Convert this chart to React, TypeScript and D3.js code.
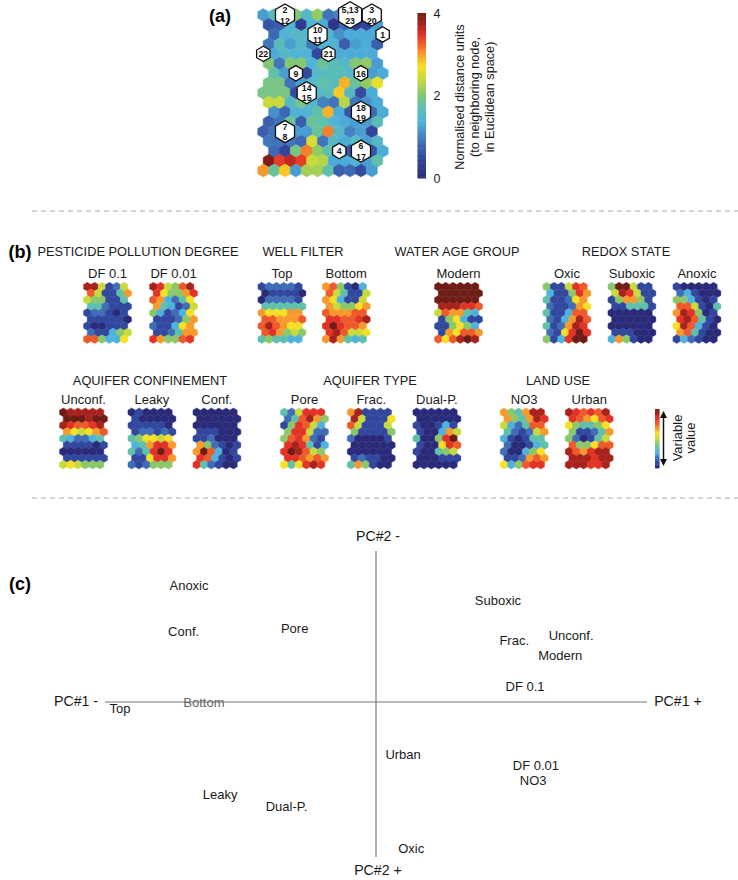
import React from "react";
import * as d3 from "d3";

const W = 738, H = 880;
const FONT = "'Liberation Sans', Arial, sans-serif";

const rampColors = ["#2b2c7a", "#31479e", "#3f6db6", "#4fb2dc", "#5fc0ab", "#8ac86a", "#c9da3c", "#f6e026", "#f79a2d", "#ee5a2a", "#e33327", "#a9231f", "#6f1c17"];
const distStops = [0, 0.45, 0.85, 1.35, 1.7, 2.05, 2.4, 2.7, 3, 3.25, 3.45, 3.7, 4];
const levelStops = d3.range(13);
const distColor = d3.scaleLinear<string>().domain(distStops).range(rampColors).clamp(true);
const levelColor = d3.scaleLinear<string>().domain(levelStops).range(rampColors).clamp(true);

// (a) U-matrix: 17 rows x 11 columns, distance units
const uMatrix = [
  [1.2, 1.6, 1.6, 2.0, 1.5, 2.1, 0.9, 1.0, 1.0, 1.2, 1.2],
  [0.6, 0.7, 1.4, 0.25, 1.4, 1.3, 0.15, 0.8, 0.35, 0.4, 1.2],
  [0.8, 1.4, 1.5, 1.5, 1.4, 1.4, 1.1, 1.3, 1.3, 1.3, 1.3],
  [0.9, 1.6, 1.2, 1.5, 0.9, 1.4, 1.4, 0.7, 1.2, 1.3, 0.7],
  [1.3, 1.3, 1.5, 1.4, 1.4, 0.45, 1.3, 1.3, 1.3, 1.3, 1.3],
  [2.0, 0.9, 2.0, 2.0, 1.4, 1.8, 1.6, 1.5, 2.0, 2.1, 1.2],
  [1.7, 1.2, 1.5, 0.5, 1.5, 1.6, 1.6, 1.5, 1.6, 1.2, 1.3],
  [1.9, 1.9, 0.9, 1.2, 1.5, 1.7, 1.6, 2.9, 1.8, 2.1, 2.6],
  [1.9, 1.9, 1.9, 0.5, 1.5, 1.5, 1.6, 2.8, 1.5, 0.5, 1.3],
  [2.4, 2.4, 1.5, 1.9, 1.5, 1.0, 0.9, 2.3, 0.9, 1.1, 1.3],
  [1.1, 0.8, 1.4, 1.4, 1.7, 2.9, 1.3, 0.6, 1.2, 0.8, 1.3],
  [0.7, 0.9, 1.8, 0.7, 1.8, 1.7, 1.4, 1.3, 1.2, 1.2, 1.6],
  [0.7, 0.9, 1.2, 1.2, 1.2, 1.8, 3.1, 1.5, 1.0, 1.2, 0.4],
  [0.9, 0.9, 0.9, 0.8, 2.5, 0.9, 1.5, 1.3, 1.5, 1.2, 1.5],
  [0.8, 0.4, 1.9, 3.1, 2.1, 1.7, 1.2, 0.6, 1.0, 0.6, 1.3],
  [3.9, 3.4, 3.6, 3.4, 2.4, 2.3, 1.3, 1.3, 1.4, 1.2, 1.7],
  [3.0, 1.8, 2.8, 1.2, 2.2, 2.2, 1.7, 0.7, 0.8, 0.5, 1.2],
];

const nodeLabels = [
  { lines: ["2", "12"], row: 0, col: 2 },
  { lines: ["5,13", "23"], row: 0, col: 8 },
  { lines: ["3", "20"], row: 0, col: 10 },
  { lines: ["1"], row: 2, col: 10 },
  { lines: ["10", "11"], row: 2, col: 4 },
  { lines: ["21"], row: 4, col: 6 },
  { lines: ["22"], row: 4, col: 0 },
  { lines: ["9"], row: 6, col: 2 },
  { lines: ["16"], row: 6, col: 8 },
  { lines: ["14", "15"], row: 8, col: 4 },
  { lines: ["18", "19"], row: 10, col: 8 },
  { lines: ["7", "8"], row: 12, col: 2 },
  { lines: ["4"], row: 14, col: 6 },
  { lines: ["6", "17"], row: 14, col: 8 },
];

// (b) component planes: 9 rows x 6 columns, colour level 0 to 12
const df01 = [[11,11,6,1,2,6],[9,6,1,1,4,8],[6,5,5,1,1,4],[4,4,2,1,1,1],[1,2,2,1,0,1],[1,1,1,1,1,0],[1,0,0,1,1,1],[2,1,1,3,5,6],[9,9,5,3,3,7]];
const df001 = [[11,10,6,5,9,11],[10,7,5,5,8,10],[9,8,3,2,4,7],[8,4,3,1,2,6],[5,3,1,2,3,7],[1,1,1,2,5,8],[2,1,1,3,7,8],[1,1,2,4,8,8],[10,8,5,5,9,10]];
const top = [[1,2,2,2,2,1],[0,1,1,1,1,0],[0,2,2,2,2,1],[4,4,4,4,4,4],[8,7,7,7,8,8],[9,9,8,8,8,9],[9,11,9,8,7,7],[9,10,8,5,6,5],[4,5,4,4,3,3]];
const bottom = [[8,9,5,1,0,3],[9,6,4,1,1,6],[8,7,3,1,1,6],[8,6,5,5,7,8],[9,8,8,8,9,9],[10,10,9,9,10,11],[10,12,10,9,9,8],[10,11,9,6,6,7],[8,11,8,4,3,4]];
const modern = [[12,12,12,12,12,12],[12,12,12,12,12,12],[12,12,12,12,12,12],[11,11,11,10,10,9],[6,9,8,8,4,3],[1,5,7,3,1,1],[1,1,5,7,5,3],[1,8,7,9,9,8],[9,7,9,11,12,11]];
const oxic = [[5,1,1,6,10,9],[3,1,1,5,10,8],[4,1,1,2,7,8],[2,1,1,2,8,7],[4,1,1,3,9,9],[2,1,3,8,11,9],[4,1,2,8,11,10],[2,1,7,10,12,10],[5,1,3,10,12,12]];
const suboxic = [[5,12,12,6,1,1],[6,11,10,6,1,1],[1,5,8,8,5,1],[1,1,4,4,4,1],[0,0,0,0,0,0],[0,0,0,0,0,0],[0,0,0,0,0,0],[1,1,1,0,0,0],[3,8,5,1,0,0]];
const anoxic = [[1,0,0,0,0,0],[2,3,1,0,0,0],[5,5,3,1,0,1],[9,9,6,1,0,4],[8,11,10,5,0,1],[10,11,9,4,1,0],[7,11,9,3,1,0],[8,9,4,1,0,0],[1,3,2,1,0,0]];
const unconf = [[12,11,11,11,11,11],[12,12,12,11,12,12],[11,10,9,9,10,11],[8,7,6,7,8,9],[4,3,2,2,3,4],[1,1,1,1,0,1],[0,0,0,0,0,0],[1,1,1,1,1,1],[6,7,6,5,5,5]];
const leaky = [[0,1,0,0,0,0],[1,0,0,0,0,0],[1,1,1,1,1,0],[1,2,2,1,2,1],[4,5,7,7,6,7],[3,4,8,10,10,8],[4,2,4,10,12,10],[1,1,7,10,10,8],[2,1,2,5,5,5]];
const conf = [[0,0,0,0,0,0],[0,0,0,0,0,0],[0,0,0,0,0,0],[1,1,1,0,0,0],[1,1,2,0,0,0],[8,5,2,1,0,1],[8,12,9,3,0,1],[10,9,3,1,0,1],[10,4,2,1,0,0]];
const pore = [[4,2,6,10,10,10],[2,4,9,11,8,5],[1,5,10,9,6,3],[5,10,10,6,2,2],[5,9,10,8,2,1],[10,11,10,4,1,3],[10,12,11,9,6,5],[10,10,9,8,9,8],[7,4,7,10,11,10]];
const frac = [[8,11,1,1,1,1],[11,6,1,1,1,7],[9,6,1,1,1,6],[5,1,1,1,1,5],[2,0,0,0,0,1],[0,0,0,0,0,0],[0,0,0,0,0,0],[1,2,1,1,0,0],[4,8,5,1,0,0]];
const dualP = [[0,0,0,0,0,0],[0,0,0,0,0,0],[1,0,0,1,3,1],[1,0,0,3,8,6],[4,0,0,5,10,12],[1,0,0,7,10,9],[1,0,0,4,5,6],[0,0,0,1,1,1],[0,0,0,0,0,0]];
const no3 = [[8,5,4,8,11,11],[8,5,4,8,11,10],[6,3,2,4,9,9],[4,2,1,2,6,8],[3,1,0,1,4,4],[2,0,0,1,3,4],[2,0,0,3,5,7],[1,1,2,8,9,8],[7,3,5,9,10,10]];
const urban = [[11,10,9,10,9,11],[10,9,8,7,9,10],[7,5,4,4,5,7],[5,1,1,2,4,8],[5,2,0,1,4,6],[9,5,5,7,9,9],[11,9,8,10,11,11],[11,11,11,10,11,11],[11,11,11,10,10,11]];

const planeNames = ["DF 0.1", "DF 0.01", "Top", "Bottom", "Modern", "Oxic", "Suboxic", "Anoxic", "Unconf.", "Leaky", "Conf.", "Pore", "Frac.", "Dual-P.", "NO3", "Urban"];
const planeValues = [df01, df001, top, bottom, modern, oxic, suboxic, anoxic, unconf, leaky, conf, pore, frac, dualP, no3, urban];
const planeLeft = [87.3, 153.3, 261.7, 326, 438.3, 546.7, 611.7, 676.7, 63.3, 131.7, 196.7, 284.3, 351, 416.7, 504, 569];
const planeTop = [286.7, 286.7, 286.7, 286.7, 286.7, 286.7, 286.7, 286.7, 412.3, 412.3, 412.3, 412.3, 412.3, 412.3, 412.3, 412.3];

const groupNames = ["PESTICIDE POLLUTION DEGREE", "WELL FILTER", "WATER AGE GROUP", "REDOX STATE", "AQUIFER CONFINEMENT", "AQUIFER TYPE", "LAND USE"];
const groupX = [138, 303, 457, 626, 150, 370, 558];
const groupY = [255.5, 255.5, 255.5, 255.5, 384.5, 384.5, 384.5];

// (c) loadings on the two principal components
const pcNames = ["Anoxic", "Conf.", "Pore", "Suboxic", "Frac.", "Unconf.", "Modern", "DF 0.1", "Top", "Bottom", "Urban", "DF 0.01", "NO3", "Leaky", "Dual-P.", "Oxic"];
const pc1 = [-0.69, -0.71, -0.3, 0.45, 0.51, 0.72, 0.68, 0.55, -0.945, -0.635, 0.1, 0.59, 0.58, -0.575, -0.33, 0.13];
const pc2 = [-0.77, -0.47, -0.49, -0.675, -0.41, -0.44, -0.31, -0.105, 0.04, 0, 0.35, 0.42, 0.52, 0.61, 0.69, 0.97];

const hexPath = (r: number) =>
  d3.range(6).map((i) => {
    const a = Math.PI / 6 + (i * Math.PI) / 3;
    return [r * Math.cos(a), r * Math.sin(a)];
  }).map((p, i) => `${i ? "L" : "M"}${p[0].toFixed(2)},${p[1].toFixed(2)}`).join("") + "Z";

// big-map grid
const uX = d3.scaleLinear().domain([0, 1]).range([263.3, 274.15]);
const uY = d3.scaleLinear().domain([0, 16]).range([15, 170.5]);
const uOffset = (row: number) => (row % 4 === 0 ? 0 : row % 4 === 2 ? 1 : 0.5);
const uPath = hexPath(6.45);

const planeDx = 7.35, planeDy = 6.55;
const planePath = hexPath(4.35);

const pcX = d3.scaleLinear().domain([-1, 1]).range([105, 647]);
const pcY = d3.scaleLinear().domain([-1, 1]).range([551, 853]);

const barDist = d3.scaleLinear().domain([0, 4]).range([178, 13]);
const barSteps = d3.range(0, 4, 0.04);
const levelBar = d3.scaleLinear().domain([0, 12]).range([468, 409]);
const levelSteps = d3.range(0, 12, 0.25);

const T = (p: any) => <text fontFamily={FONT} fill="#1a1a1a" textAnchor="middle" {...p} />;

export default function App() {
  return (
    <svg width={W} height={H} viewBox={`0 0 ${W} ${H}`} style={{ position: "absolute", left: 0, top: 0, background: "#fff" }}>
      <defs>
        <marker id="ah" markerWidth="8" markerHeight="8" refX="5" refY="3.5" orient="auto-start-reverse" markerUnits="userSpaceOnUse">
          <path d="M0,0L7,3.5L0,7Z" fill="#111" />
        </marker>
        <filter id="soft" x="-5%" y="-5%" width="110%" height="110%">
          <feGaussianBlur stdDeviation="0.55" />
        </filter>
      </defs>

      {/* panel letters */}
      <T x={220} y={22} fontSize={18} fontWeight="bold" fill="#000">(a)</T>
      <T x={20} y={258} fontSize={18} fontWeight="bold" fill="#000">(b)</T>
      <T x={20} y={590} fontSize={18} fontWeight="bold" fill="#000">(c)</T>

      {/* (a) */}
      <g>
        <g filter="url(#soft)">
          {uMatrix.map((row, r) =>
            row.map((v, c) => (
              <path key={`${r}-${c}`} d={uPath} fill={distColor(v)} stroke={distColor(v)} strokeWidth={0.4} transform={`translate(${uX(c + uOffset(r))},${uY(r)})`} />
            ))
          )}
        </g>
        {nodeLabels.map((n) => {
          const x = uX(n.col + uOffset(n.row));
          const y = uY(n.row);
          const big = n.lines[0].length > 2;
          const R = big ? 13.3 : n.lines.length > 1 ? 11 : 7.7;
          return (
            <g key={n.lines.join("/")} transform={`translate(${x},${y})`}>
              <path d={hexPath(R)} fill="#fff" stroke="#111" strokeWidth={1.3} />
              {n.lines.map((l, i) => (
                <T key={i} y={n.lines.length > 1 ? (i === 0 ? -1.6 : 8.6) : 3.2} fontSize={8.8} fontWeight="bold" fill="#111">{l}</T>
              ))}
            </g>
          );
        })}
        {barSteps.map((v) => (
          <rect key={v} x={417.5} width={8.5} y={barDist(v + 0.04)} height={Math.abs(barDist(0) - barDist(0.04)) + 0.5} fill={distColor(v)} />
        ))}
        {[4, 2, 0].map((v) => (
          <T key={v} x={437} y={barDist(v) + 4.5} fontSize={12.5}>{v}</T>
        ))}
        {["Normalised distance units", "(to neighboring node,", "in Euclidean space)"].map((s, i) => (
          <T key={s} transform={`translate(${464 + i * 15},97) rotate(-90)`} fontSize={12.7}>{s}</T>
        ))}
      </g>

      {/* separators */}
      {[211, 498].map((y) => (
        <line key={y} x1={32} x2={738} y1={y} y2={y} stroke="#a8a8a8" strokeWidth={1} strokeDasharray="5 4" />
      ))}

      {/* (b) */}
      {groupNames.map((g, i) => (
        <T key={g} x={groupX[i]} y={groupY[i]} fontSize={12.8}>{g}</T>
      ))}
      {planeNames.map((name, p) => (
        <g key={name}>
          <T x={planeLeft[p] + 2.5 * planeDx + planeDx / 4} y={planeTop[p] - 8.5} fontSize={13}>{name}</T>
          <g filter="url(#soft)">
            {planeValues[p].map((row, r) =>
              row.map((v, c) => (
                <path key={`${r}-${c}`} d={planePath} fill={levelColor(v)} stroke={levelColor(v)} strokeWidth={0.4}
                  transform={`translate(${planeLeft[p] + (c + (r % 2 ? 0.5 : 0)) * planeDx},${planeTop[p] + r * planeDy})`} />
              ))
            )}
          </g>
        </g>
      ))}
      {levelSteps.map((v) => (
        <rect key={v} x={655} width={4.5} y={levelBar(v + 0.25)} height={Math.abs(levelBar(0) - levelBar(0.25)) + 0.4} fill={levelColor(v)} />
      ))}
      <line x1={663.5} x2={663.5} y1={413} y2={464} stroke="#111" strokeWidth={1.5} markerStart="url(#ah)" markerEnd="url(#ah)" />
      {["Variable", "value"].map((s, i) => (
        <T key={s} transform={`translate(${682 + i * 13},438) rotate(-90)`} fontSize={13}>{s}</T>
      ))}

      {/* (c) */}
      <line x1={pcX(-1)} x2={pcX(1)} y1={pcY(0)} y2={pcY(0)} stroke="#777" strokeWidth={1.2} />
      <line x1={pcX(0)} x2={pcX(0)} y1={pcY(-1)} y2={857} stroke="#777" strokeWidth={1.2} />
      <T x={378} y={541} fontSize={14.2}>PC#2 -</T>
      <T x={378} y={875} fontSize={14.2}>PC#2 +</T>
      <T x={76} y={706} fontSize={14.2}>PC#1 -</T>
      <T x={678} y={706} fontSize={14.2}>PC#1 +</T>
      {pcNames.map((n, i) => (
        <T key={n} x={pcX(pc1[i])} y={pcY(pc2[i]) + 4.5} fontSize={13} fill={n === "Bottom" ? "#666" : "#1a1a1a"}>{n}</T>
      ))}
    </svg>
  );
}
